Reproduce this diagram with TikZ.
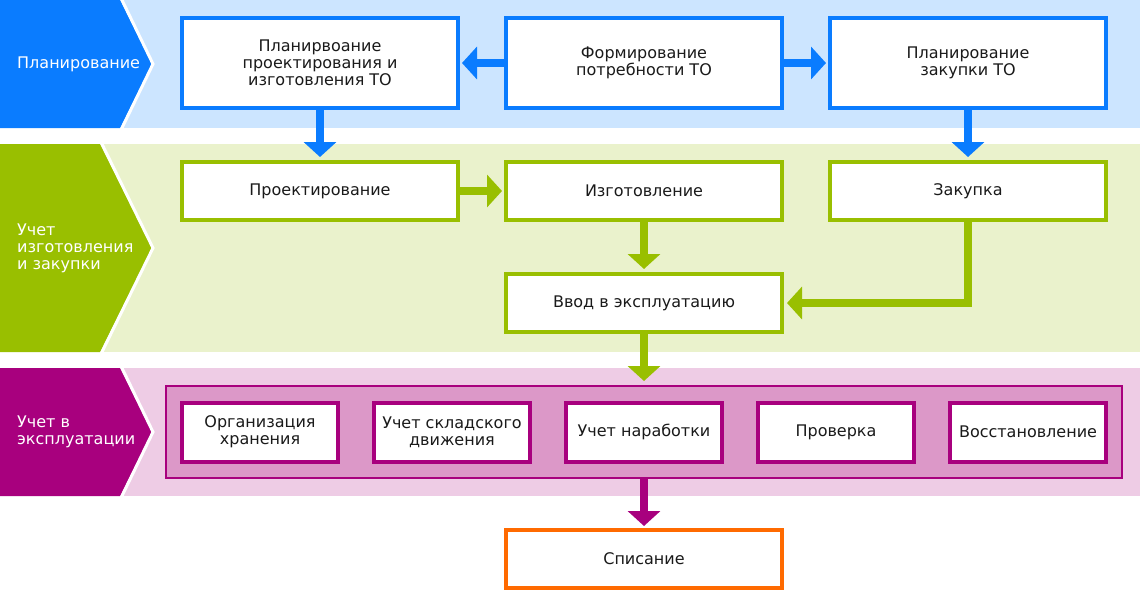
\documentclass[tikz,border=0pt]{standalone}
\usepackage{fontspec}
\setmainfont{DejaVu Sans}
\usetikzlibrary{arrows.meta,positioning}

\definecolor{planDark}{HTML}{0A7CFF}
\definecolor{planLight}{HTML}{CCE5FF}
\definecolor{makeDark}{HTML}{99BF00}
\definecolor{makeLight}{HTML}{EAF2CC}
\definecolor{useDark}{HTML}{A8007E}
\definecolor{useLight}{HTML}{EECCE5}
\definecolor{useMid}{HTML}{DC98C8}
\definecolor{writeOff}{HTML}{FF6A00}
\definecolor{textDark}{HTML}{1A1A1A}

\begin{document}
\begin{tikzpicture}[
    x = 1pt, y = -1pt,
    font = \fontsize{16}{17}\selectfont,
    box/.style = {draw, fill=white, line width=4pt, minimum width=276pt,
        minimum height=58pt, align=center, text=textDark, inner sep=2pt},
    smallbox/.style = {box, draw=useDark, minimum width=156pt, minimum height=59pt},
    flow/.style = {line width=8pt, -{Triangle[length=15pt,width=32pt]}},
    lane/.style = {text=white, align=left, anchor=west, inner sep=0pt}
]
    \useasboundingbox (0,0) rectangle (1140,592);

    % lanes
    \fill[planLight] (0,0) rectangle (1140,128);
    \fill[planDark] (0,0) -- (120,0) -- (152,64) -- (120,128) -- (0,128) -- cycle;
    \draw[white, line width=3pt] (121,-2) -- (153,64) -- (121,130);

    \fill[makeLight] (0,144) rectangle (1140,352);
    \fill[makeDark] (0,144) -- (100,144) -- (152,248) -- (100,352) -- (0,352) -- cycle;
    \draw[white, line width=3pt] (101,142) -- (153,248) -- (101,354);

    \fill[useLight] (0,368) rectangle (1140,496);
    \fill[useDark] (0,368) -- (120,368) -- (152,432) -- (120,496) -- (0,496) -- cycle;
    \draw[white, line width=3pt] (121,366) -- (153,432) -- (121,498);

    \node[lane] (lanePlan) at (17,64) {Планирование};
    \node[lane] (laneMake) at (17,248) {Учет\\изготовления\\и закупки};
    \node[lane] (laneUse) at (17,432) {Учет в\\эксплуатации};

    % planning
    \node[box, draw=planDark, minimum height=90pt] (planProd) at (320,63) {Планирвоание\\проектирования и\\изготовления ТО};
    \node[box, draw=planDark, minimum height=90pt] (needs) at (644,63) {Формирование\\потребности ТО};
    \node[box, draw=planDark, minimum height=90pt] (planBuy) at (968,63) {Планирование\\закупки ТО};

    % manufacturing and purchase
    \node[box, draw=makeDark] (design) at (320,191) {Проектирование};
    \node[box, draw=makeDark] (build) at (644,191) {Изготовление};
    \node[box, draw=makeDark] (buy) at (968,191) {Закупка};
    \node[box, draw=makeDark] (launch) at (644,303) {Ввод в эксплуатацию};

    % operation
    \node[draw=useDark, fill=useMid, line width=2pt, minimum width=956pt,
        minimum height=92pt] (usage) at (644,432) {};
    \foreach \name/\txt [count=\i from 0] in {store/{Организация\\хранения},
        move/{Учет складского\\движения}, hours/{Учет наработки},
        check/{Проверка}, repair/{Восстановление}}
        \node[smallbox] (\name) at (260+192*\i,432) {\txt};

    \node[box, draw=writeOff] (scrap) at (644,559) {Списание};

    % arrows
    \draw[flow, planDark, shorten >=2pt] (needs) -- (planProd);
    \draw[flow, planDark, shorten >=2pt] (needs) -- (planBuy);
    \draw[flow, planDark, shorten >=3pt] (planProd) -- (design);
    \draw[flow, planDark, shorten >=3pt] (planBuy) -- (buy);
    \draw[flow, makeDark, shorten >=2pt] (design) -- (build);
    \draw[flow, makeDark, shorten >=3pt] (build) -- (launch);
    \draw[flow, makeDark, shorten >=3pt] (buy) |- (launch);
    \draw[flow, makeDark, shorten >=4pt] (launch) -- (usage);
    \draw[flow, useDark, shorten >=2pt] (usage) -- (scrap);
\end{tikzpicture}
\end{document}
